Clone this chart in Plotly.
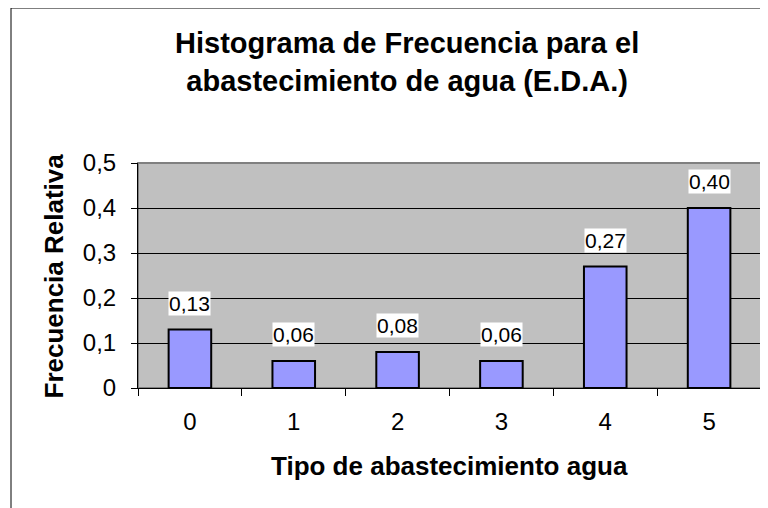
import plotly.graph_objects as go

categories = ["0", "1", "2", "3", "4", "5"]
values = [0.13, 0.06, 0.08, 0.06, 0.27, 0.40]
value_labels = ["0,13", "0,06", "0,08", "0,06", "0,27", "0,40"]
y_tickvals = [0, 0.1, 0.2, 0.3, 0.4, 0.5]
y_ticktext = ["0", "0,1", "0,2", "0,3", "0,4", "0,5"]

title_text = "Histograma de Frecuencia para el<br>abastecimiento de agua (E.D.A.)"
x_title = "Tipo de abastecimiento agua"
y_title = "Frecuencia Relativa"

FONT = "Liberation Sans, Arial, sans-serif"
# the page body has an 8px margin, so the figure is drawn 8px in from the window edge
OFF = 8
W, H = 768 - OFF, 508 - OFF
L, R, T, B = 138 - OFF, 7, 163 - OFF, 120
pw, ph = W - L - R, H - T - B


def px_x(xw):  # window x -> paper x
    return (xw - OFF - L) / pw


def px_y(yw):  # window y -> paper y
    return 1 - (yw - OFF - T) / ph


fig = go.Figure()
fig.add_trace(go.Bar(
    x=categories, y=values,
    marker=dict(color="#9999FF", line=dict(color="#000000", width=2)),
    width=0.41,
    hoverinfo="skip",
))

for c, v, t in zip(categories, values, value_labels):
    fig.add_annotation(x=c, y=v, text=t, showarrow=False, xref="x", yref="y",
                       yanchor="bottom", yshift=14, bgcolor="#FFFFFF",
                       borderpad=0, font=dict(family=FONT, size=21, color="#000"))

# chart title
fig.add_annotation(xref="paper", yref="paper", x=px_x(407), y=px_y(62),
                   text=f"<b>{title_text}</b>", showarrow=False,
                   xanchor="center", yanchor="middle",
                   font=dict(family=FONT, size=29, color="#000"))
# y-axis title
fig.add_annotation(xref="paper", yref="paper", x=px_x(53), y=0.5,
                   text=f"<b>{y_title}</b>", textangle=-90, showarrow=False,
                   xanchor="center", yanchor="middle",
                   font=dict(family=FONT, size=26, color="#000"))
# x-axis title
fig.add_annotation(xref="paper", yref="paper", x=0.5, y=px_y(466),
                   text=f"<b>{x_title}</b>", showarrow=False,
                   xanchor="center", yanchor="middle",
                   font=dict(family=FONT, size=26, color="#000"))

# outer chart border (clipped at right/bottom)
fig.add_shape(type="rect", xref="paper", yref="paper",
              x0=px_x(11), x1=px_x(800), y0=px_y(540), y1=px_y(8),
              line=dict(color="#000000", width=1), fillcolor="rgba(0,0,0,0)",
              layer="below")
# plot-area border
fig.add_shape(type="rect", xref="paper", yref="paper", x0=0, x1=1, y0=0, y1=1,
              line=dict(color="#808080", width=2), fillcolor="rgba(0,0,0,0)",
              layer="below")

fig.update_layout(
    width=W, height=H,
    margin=dict(l=L, r=R, t=T, b=B, autoexpand=False),
    paper_bgcolor="#FFFFFF", plot_bgcolor="#C0C0C0",
    showlegend=False, bargap=0.59,
    xaxis=dict(type="category", tickson="boundaries", ticks="outside", ticklen=7,
               tickcolor="#000", showline=True, linecolor="#000", linewidth=1,
               showgrid=False, tickfont=dict(family=FONT, size=24, color="#000"),
               ticklabelstandoff=12),
    yaxis=dict(range=[0, 0.5], tickvals=y_tickvals, ticktext=y_ticktext,
               ticks="outside", ticklen=6, tickcolor="#000",
               showline=True, linecolor="#000", linewidth=1,
               showgrid=True, gridcolor="#000000", gridwidth=1, zeroline=False,
               ticklabelstandoff=10,
               tickfont=dict(family=FONT, size=24, color="#000")),
)

fig.write_html("out.html")
